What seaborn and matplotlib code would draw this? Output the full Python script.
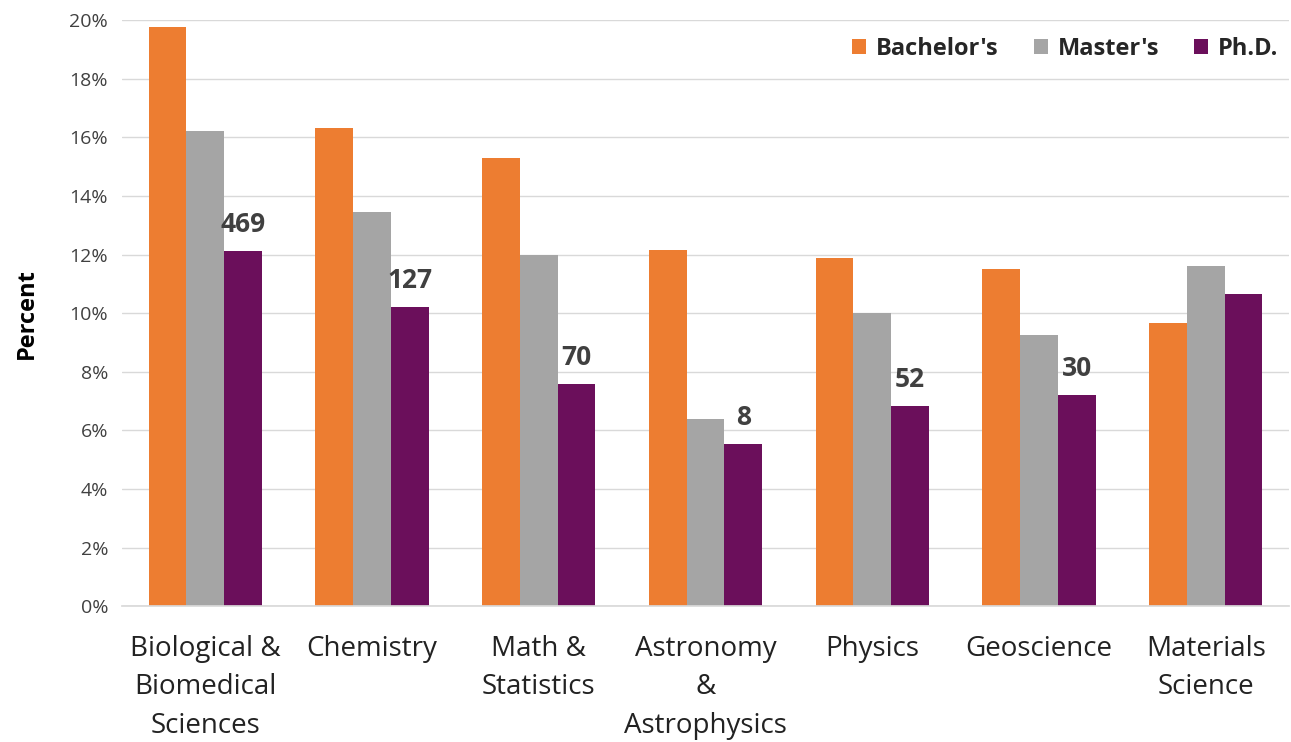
import matplotlib
matplotlib.use("Agg")
import matplotlib.pyplot as plt
import seaborn as sns
import pandas as pd
from matplotlib.patches import Patch

categories = ["Biological &\nBiomedical\nSciences", "Chemistry", "Math &\nStatistics",
              "Astronomy\n&\nAstrophysics", "Physics", "Geoscience", "Materials\nScience"]
bachelors = [19.75, 16.3, 15.3, 12.15, 11.88, 11.5, 9.66]
masters = [16.2, 13.45, 12.0, 6.38, 10.0, 9.25, 11.62]
phd = [12.12, 10.2, 7.58, 5.53, 6.83, 7.2, 10.65]
phd_counts = ["469", "127", "70", "8", "52", "30", ""]
series_names = ["Bachelor's", "Master's", "Ph.D."]
colors = ["#ED7D31", "#A5A5A5", "#6B0F5B"]
yticks = [0, 2, 4, 6, 8, 10, 12, 14, 16, 18, 20]

rows = []
for name, vals in zip(series_names, [bachelors, masters, phd]):
    for c, v in zip(categories, vals):
        rows.append({"Field": c, "Degree": name, "Percent": v})
df = pd.DataFrame(rows)

sns.set_theme(style="white")
plt.rcParams['font.family'] = ['Open Sans', 'DejaVu Sans']

fig = plt.figure(figsize=(12.91, 7.42), dpi=100)
ax = fig.add_axes([0.0945, 0.183, 0.904, 0.79])

sns.barplot(data=df, x="Field", y="Percent", hue="Degree", order=categories,
            hue_order=series_names, palette=colors, width=0.68, saturation=1,
            ax=ax, legend=False, errorbar=None)

for p in ax.patches:
    p.set_linewidth(0)

ax.set_ylim(0, 20)
ax.set_yticks(yticks)
ax.set_yticklabels([f"{t}%" for t in yticks], fontsize=14, color="#404040")
ax.yaxis.grid(True, color="#D9D9D9", linewidth=1)
ax.set_axisbelow(True)
ax.set_xlim(-0.5, len(categories) - 0.5)
ax.tick_params(axis="x", labelsize=20, length=0, pad=21)
ax.tick_params(axis="y", length=0, pad=10)
for lbl in ax.get_xticklabels():
    lbl.set_color("#222222")
    lbl.set_linespacing(1.48)
ax.set_xlabel("")
ax.set_ylabel("Percent", fontsize=17, fontweight="bold", color="#000000", labelpad=22)
for s in ["top", "right", "left"]:
    ax.spines[s].set_visible(False)
ax.spines["bottom"].set_color("#D9D9D9")

# PhD count labels
phd_container = ax.containers[2]
for bar, lab in zip(phd_container, phd_counts):
    if lab:
        ax.text(bar.get_x() + bar.get_width() / 2, bar.get_height() + 0.45, lab,
                ha="center", va="bottom", fontsize=19, fontweight="bold", color="#404040")

handles = [Patch(facecolor=c, edgecolor="none") for c in colors]
leg = ax.legend(handles, series_names, loc="upper right", ncol=3, frameon=False,
                prop={"size": 17, "weight": "bold"}, handlelength=0.6, handleheight=0.6,
                handletextpad=0.4, columnspacing=1.5, bbox_to_anchor=(1.009, 1.008))

fig.savefig("out.png", dpi=100)
